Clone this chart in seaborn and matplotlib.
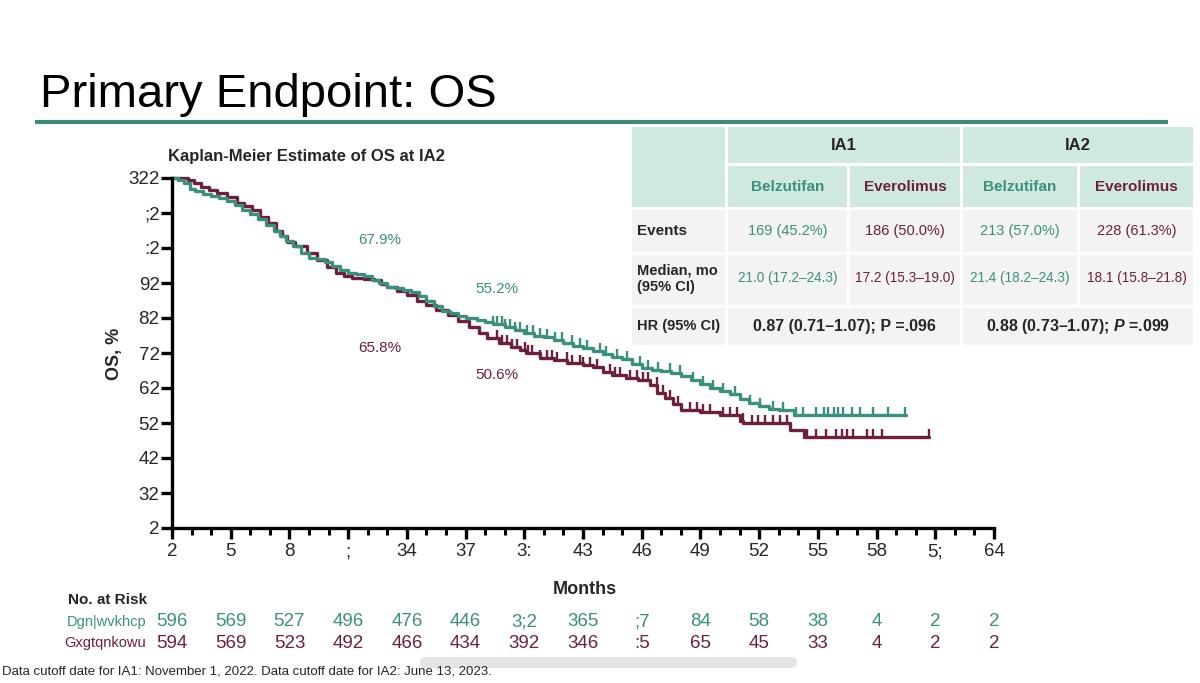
import numpy as np
import pandas as pd
import matplotlib
matplotlib.use('Agg')
import matplotlib.pyplot as plt
import matplotlib.transforms as mtransforms
from matplotlib.patches import Rectangle, FancyBboxPatch
import seaborn as sns

# ---- data ----
belz_months = [0, 0.3, 0.6, 0.9, 1.2, 1.6, 2.0, 2.4, 2.8, 3.2, 3.6, 4.0, 4.4, 4.8,
               5.2, 5.5, 5.8, 6.2, 6.6, 7.0, 7.4, 7.8, 8.2, 8.6, 9.0, 9.4, 9.8,
               10.2, 10.6, 11.0, 11.4, 11.8, 12.2, 12.6, 13.0, 13.4, 13.8, 14.2,
               14.6, 15.0, 15.6, 16.0, 16.4, 17.0, 17.5, 18.0, 18.5, 19.0, 19.5,
               20.0, 20.5, 21.0, 21.5, 22.0, 22.5, 23.0, 23.5, 24.0, 24.5, 25.0,
               25.5, 26.0, 26.5, 27.0, 27.5, 28.0, 28.5, 29.0, 29.5, 30.0, 30.5,
               31.0, 31.8, 37.5]
belz_os = [100, 99.5, 98.5, 97, 96.2, 95.5, 94.8, 94.2, 93.5, 92.2, 91, 89.8, 88.2,
           86.5, 85, 83.5, 82, 80.5, 78.5, 77.2, 76.8, 76, 75, 73.8, 72.8, 72.5, 72,
           71, 70, 69, 68.5, 68, 67.5, 66.3, 65, 63.5, 62, 61.4, 60.6, 60, 59.4,
           58.9, 58.3, 57.3, 56.6, 55.6, 55, 54.5, 53.8, 52.8, 52, 51.4, 50.6, 49.7,
           48.8, 48.2, 46.9, 45.8, 45.2, 44.8, 44.2, 43.4, 42.3, 41.2, 40, 39.2,
           38.2, 37, 35.8, 35, 34, 33.7, 32.2, 32.2]

ever_months = [0, 0.8, 1.1, 1.5, 1.9, 2.3, 2.8, 3.3, 3.7, 4.1, 4.5, 4.9, 5.3, 5.6,
               5.9, 6.3, 6.9, 7.4, 7.9, 8.4, 8.8, 9.2, 9.8, 10.3, 10.7, 11.0, 11.5,
               12.0, 12.5, 13.0, 13.5, 14.1, 14.6, 15.2, 15.7, 16.1, 16.7, 17.3,
               17.8, 18.1, 18.8, 19.5, 20.2, 21.0, 21.5, 22.0, 22.5, 23.2, 23.8,
               24.4, 24.8, 25.2, 25.6, 26.0, 27.0, 28.0, 29.0, 29.2, 31.6, 32.3, 38.7]
ever_os = [100, 99.5, 98.6, 97.5, 96.5, 95.7, 94.5, 92.9, 92, 90.9, 89, 87.2, 85,
           83.5, 81.7, 80.5, 78.6, 76.5, 74.6, 73, 72, 71.5, 71.2, 70.9, 69.8, 68.9,
           67.8, 66.6, 65, 63.7, 62.3, 60.9, 59.2, 57.4, 55.8, 54.3, 53, 51.7, 50.9,
           50, 48.6, 48, 47.2, 46.6, 46, 44.6, 43.8, 43, 42.3, 40.9, 38.5, 37.2,
           35.5, 33.7, 33.2, 32.3, 30.5, 30, 28, 26.1, 26.1]

belz_censor = [16.42, 16.59, 16.84, 17.01, 17.27, 17.52, 17.78, 18.12, 18.46, 18.8,
               19.14, 19.57, 19.91, 20.42, 20.84, 21.18, 21.86, 22.2, 22.72, 23.23,
               23.91, 24.33, 24.84, 25.44, 25.95, 26.63, 27.14, 27.65, 28.17, 28.76,
               29.53, 30.04, 30.72, 31.23, 31.9, 32.25, 32.93, 33.3, 33.53, 33.8,
               34.04, 34.3, 34.72, 35.15, 35.83, 36.6, 37.45]
ever_censor = [16.59, 16.84, 17.1, 17.35, 17.61, 18.03, 18.2, 18.37, 18.8, 19.14,
               19.4, 19.65, 20.16, 20.42, 20.84, 21.01, 21.35, 21.69, 22.38, 22.63,
               22.89, 23.4, 23.74, 24.08, 24.33, 24.76, 25.1, 25.44, 25.87, 26.46,
               26.8, 27.14, 27.48, 28.17, 28.51, 28.85, 29.19, 29.61, 29.96, 30.3,
               30.72, 31.06, 31.4, 32.42, 32.93, 33.44, 33.95, 34.21, 34.47, 34.81,
               35.49, 35.83, 36.26, 38.7]

risk_months = [0, 3, 6, 9, 12, 15, 18, 21, 24, 27, 30, 33, 36, 39, 42]
belz_risk = [374, 347, 305, 274, 254, 224, 190, 143, 95, 62, 36, 16, 2, 0, 0]
ever_risk = [372, 347, 301, 270, 244, 212, 170, 124, 83, 43, 23, 11, 2, 0, 0]
y_ticks = [0, 10, 20, 30, 40, 50, 60, 70, 80, 90, 100]

arms = ['Belzutifan', 'Everolimus']
table_header = ['IA1', 'IA2']
events = ['169 (45.2%)', '186 (50.0%)', '213 (57.0%)', '228 (61.3%)']
medians = ['21.0 (17.2\u201324.3)', '17.2 (15.3\u201319.0)',
           '21.4 (18.2\u201324.3)', '18.1 (15.8\u201321.8)']
hrs = ['0.87 (0.71\u20131.07); P =.096', '0.88 (0.73\u20131.07); $P$ =.099']

annot = [(10.6, 82.3, '67.9%', 'Belzutifan'), (10.6, 51.4, '65.8%', 'Everolimus'),
         (16.6, 68.3, '55.2%', 'Belzutifan'), (16.6, 43.7, '50.6%', 'Everolimus')]

TEAL = '#3b8f7f'
MAROON = '#6d1f3d'
colors = {'Belzutifan': TEAL, 'Everolimus': MAROON}


def slide_glyphs(s):
    # the slide's axis font maps every character two code points up
    return ''.join(c if c == ' ' else chr(ord(c) + 2) for c in str(s))


sns.set_style('ticks')
plt.rcParams['font.family'] = ['Liberation Sans', 'DejaVu Sans']
plt.rcParams['mathtext.fontset'] = 'custom'
plt.rcParams['mathtext.it'] = 'Liberation Sans:italic:bold'
plt.rcParams['mathtext.rm'] = 'Liberation Sans:bold'

fig = plt.figure(figsize=(12, 6.83), dpi=100)

# overlay in pixel coordinates for the slide furniture
over = fig.add_axes([0, 0, 1, 1])
over.set_xlim(0, 1200)
over.set_ylim(683, 0)
over.axis('off')

over.text(40, 107, 'Primary Endpoint: OS', fontsize=34, color='black', va='baseline')
over.plot([35, 1168], [122, 122], color='#3d8a7a', lw=3, solid_capstyle='butt')

# ---- KM plot ----
ax = fig.add_axes([172 / 1200, 1 - 528 / 683, 822 / 1200, 350 / 683])

frames = []
for name, mo, os_ in [('Everolimus', ever_months, ever_os), ('Belzutifan', belz_months, belz_os)]:
    frames.append(pd.DataFrame({'month': mo, 'os': os_, 'arm': name}))
km = pd.concat(frames, ignore_index=True)

sns.lineplot(data=km, x='month', y='os', hue='arm', hue_order=['Everolimus', 'Belzutifan'],
             palette=colors, estimator=None, sort=False, drawstyle='steps-post',
             linewidth=2.4, legend=False, clip_on=False, ax=ax)

tick_marker = [(0, 0), (0, 1)]
for name, mo, os_, cens in [('Everolimus', ever_months, ever_os, ever_censor),
                            ('Belzutifan', belz_months, belz_os, belz_censor)]:
    idx = np.searchsorted(mo, cens, side='right') - 1
    cy = np.array(os_)[idx]
    ax.plot(cens, cy, linestyle='none', marker=tick_marker, markersize=11,
            markeredgewidth=1.7, color=colors[name], clip_on=False)

for x, y, txt, name in annot:
    ax.text(x, y, txt, color=colors[name], fontsize=11, ha='center', va='center')

ax.set_xlim(0, 42)
ax.set_ylim(0, 100)
ax.set_xticks(risk_months)
ax.set_xticks(np.arange(0, 43, 1), minor=True)
ax.set_xticklabels([slide_glyphs(m) for m in risk_months], fontsize=13.5)
ax.set_yticks(y_ticks)
ax.set_yticklabels([slide_glyphs(v) for v in y_ticks], fontsize=13.5)
ax.tick_params(axis='both', which='major', length=8, width=2.4, color='black', pad=3)
ax.tick_params(axis='x', which='minor', length=5, width=2.2, color='black')
ax.tick_params(axis='y', pad=1)
for sp in ['top', 'right']:
    ax.spines[sp].set_visible(False)
for sp in ['left', 'bottom']:
    ax.spines[sp].set_linewidth(2.4)
    ax.spines[sp].set_color('black')
ax.set_xlabel('')
ax.set_ylabel('')
ax.patch.set_alpha(0)

over.text(168, 157, 'Kaplan-Meier Estimate of OS at IA2', fontsize=12, fontweight='bold',
          va='center')
over.text(114, 354, 'OS, %', fontsize=13, fontweight='bold', rotation=90,
          ha='center', va='center')
over.text(585, 590, 'Months', fontsize=13, fontweight='bold', ha='center', va='center')
over.text(68, 600, 'No. at Risk', fontsize=11, fontweight='bold', ha='left', va='center')

# number at risk rows
blend = mtransforms.blended_transform_factory(ax.transData, over.transData)
for name, risk, ypx in [('Belzutifan', belz_risk, 622), ('Everolimus', ever_risk, 643)]:
    over.text(146, ypx, slide_glyphs(name), color=colors[name], fontsize=10.5,
              ha='right', va='center')
    for m, n in zip(risk_months, risk):
        ax.text(m, ypx, slide_glyphs(n), color=colors[name], fontsize=13.5,
                ha='center', va='center', transform=blend)

# ---- summary table ----
GREEN_BG = '#cfe9de'
GREY_BG = '#f3f3f3'


def cell(x0, x1, y0, y1, fc):
    over.add_patch(Rectangle((x0, y0), x1 - x0, y1 - y0, facecolor=fc, edgecolor='none'))


cols = [(632, 725), (728, 847), (850, 960), (963, 1077), (1080, 1193)]
cell(632, 725, 127, 207, GREEN_BG)
cell(728, 960, 127, 163, GREEN_BG)
cell(963, 1193, 127, 163, GREEN_BG)
for x0, x1 in cols[1:]:
    cell(x0, x1, 166, 207, GREEN_BG)
for y0, y1 in [(210, 252), (255, 305)]:
    for x0, x1 in cols:
        cell(x0, x1, y0, y1, GREY_BG)
cell(632, 725, 308, 345, GREY_BG)
cell(728, 960, 308, 345, GREY_BG)
cell(963, 1193, 308, 345, GREY_BG)

over.text(844, 145, table_header[0], fontsize=12, fontweight='bold', ha='center', va='center')
over.text(1078, 145, table_header[1], fontsize=12, fontweight='bold', ha='center', va='center')
for i, (x0, x1) in enumerate(cols[1:]):
    name = arms[i % 2]
    cx = (x0 + x1) / 2
    over.text(cx, 187, name, color=colors[name], fontsize=11, fontweight='bold',
              ha='center', va='center')
    over.text(cx, 231, events[i], color=colors[name], fontsize=10.5, ha='center', va='center')
    over.text(cx, 278, medians[i], color=colors[name], fontsize=9.8, ha='center', va='center')

over.text(637, 231, 'Events', fontsize=11, fontweight='bold', ha='left', va='center')
over.text(637, 279, 'Median, mo\n(95% CI)', fontsize=10.5, fontweight='bold', ha='left',
          va='center', linespacing=1.2)
over.text(637, 326, 'HR (95% CI)', fontsize=10.5, fontweight='bold', ha='left', va='center')
over.text(844, 326, hrs[0], fontsize=11.5, fontweight='bold', ha='center', va='center')
over.text(1078, 326, hrs[1], fontsize=11.5, fontweight='bold', ha='center', va='center')

# footer and the screenshot's scrollbar
over.add_patch(FancyBboxPatch((420, 657), 377, 11, boxstyle='round,pad=0,rounding_size=5.5',
                              facecolor='#e4e4e4', edgecolor='none'))
over.text(2, 672, 'Data cutoff date for IA1: November 1, 2022. Data cutoff date for IA2: June 13, 2023.',
          fontsize=9.5, ha='left', va='center')

fig.savefig('out.png', dpi=100)
